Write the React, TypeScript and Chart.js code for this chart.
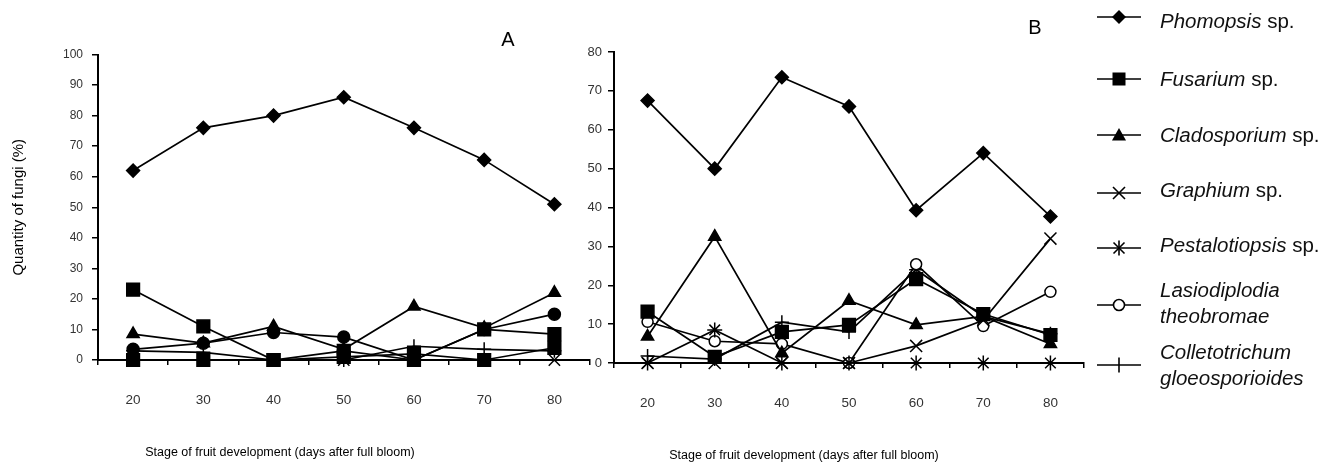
import React, { useEffect, useRef } from 'react';
import { Chart, registerables } from 'chart.js';

Chart.register(...registerables);

// ---------- data ----------
const days = ['20', '30', '40', '50', '60', '70', '80'];

// Panel A – quantity of fungi (%)
const phomopsisA = [62, 76, 80, 86, 76, 65.5, 51];
const fusariumA = [23, 11, 0, 3, 0, 10, 8.5];
const cladosporiumA = [8.5, 5.5, 11, 3.5, 17.5, 10.5, 22];
const graphiumA = [0, 0, 0, 0, 0, 0, 0];
const pestalotiopsisA = [0, 0, 0, 1, 2, 0, 4];
const lasiodiplodiaA = [3.5, 5.5, 9, 7.5, 0, 10, 15];
const colletotrichumA = [3, 2.5, 0, 0, 4.5, 3.5, 3];

// Panel B – quantity of fungi (%)
const phomopsisB = [67.5, 50, 73.5, 66, 39.3, 54, 37.7];
const fusariumB = [13.2, 1.6, 8, 9.8, 21.6, 12.6, 7.2];
const cladosporiumB = [6.8, 32.5, 2.5, 16, 9.8, 12, 4.9];
const graphiumB = [0, 0, 0, 0, 4.4, 11, 32];
const pestalotiopsisB = [0, 8.5, 0, 0, 0, 0, 0];
const lasiodiplodiaB = [10.6, 5.6, 4.9, 0, 25.4, 9.5, 18.3];
const colletotrichumB = [1.8, 1, 10.5, 8, 24, 12, 7.5];

const yMaxA = 100;
const yMaxB = 80;
const yStep = 10;

const seriesNames = [
  'Phomopsis sp.',
  'Fusarium sp.',
  'Cladosporium sp.',
  'Graphium sp.',
  'Pestalotiopsis sp.',
  'Lasiodiplodia theobromae',
  'Colletotrichum gloeosporioides',
];

// ---------- styles ----------
const FONT = '"Liberation Sans", Arial, Helvetica, sans-serif';

type Mk = { style: string; radius: number; fill: string };

const markersA: Mk[] = [
  { style: 'rectRot', radius: 6.5, fill: '#000' },
  { style: 'rect', radius: 9, fill: '#000' },
  { style: 'triangle', radius: 7, fill: '#000' },
  { style: 'crossRot', radius: 8, fill: '#000' },
  { style: 'rect', radius: 9, fill: '#000' },
  { style: 'circle', radius: 6, fill: '#000' },
  { style: 'cross', radius: 7, fill: '#000' },
];

const markersB: Mk[] = [
  { style: 'rectRot', radius: 6.5, fill: '#000' },
  { style: 'rect', radius: 9, fill: '#000' },
  { style: 'triangle', radius: 7, fill: '#000' },
  { style: 'crossRot', radius: 8.5, fill: '#000' },
  { style: 'star', radius: 7.5, fill: '#000' },
  { style: 'circle', radius: 5.5, fill: '#fff' },
  { style: 'cross', radius: 7, fill: '#000' },
];

type PanelProps = {
  series: number[][];
  markers: Mk[];
  left: number;
  width: number;
  yMax: number;
  padTop: number;
  padRight: number;
  yAxisWidth: number;
  xAxisHeight: number;
  yFontSize: number;
  yPad: number;
  yTitle?: string;
};

function Panel(p: PanelProps) {
  const ref = useRef<HTMLCanvasElement | null>(null);
  useEffect(() => {
    if (!ref.current) return;
    const chart = new Chart(ref.current, {
      type: 'line',
      data: {
        labels: days,
        datasets: p.series.map((vals, i) => ({
          label: seriesNames[i],
          data: vals,
          borderColor: '#000',
          borderWidth: 1.7,
          backgroundColor: p.markers[i].fill,
          pointStyle: p.markers[i].style as any,
          pointRadius: p.markers[i].radius,
          pointBackgroundColor: p.markers[i].fill,
          pointBorderColor: '#000',
          pointBorderWidth: 1.5,
          tension: 0,
          fill: false,
          clip: false as any,
        })),
      },
      options: {
        animation: false,
        responsive: false,
        maintainAspectRatio: false,
        layout: { padding: { top: p.padTop, right: p.padRight, left: 0, bottom: 0 } },
        plugins: { legend: { display: false }, tooltip: { enabled: false }, title: { display: false } },
        scales: {
          x: {
            type: 'category',
            offset: true,
            grid: {
              offset: true,
              drawOnChartArea: false,
              drawTicks: true,
              tickLength: 5,
              color: '#000',
              lineWidth: 1.5,
            },
            border: { display: true, color: '#000', width: 2 },
            ticks: {
              padding: 27,
              color: '#333',
              font: { family: FONT, size: 13.5 },
              maxRotation: 0,
              autoSkip: false,
            },
            afterFit: (s: any) => {
              s.height = p.xAxisHeight;
            },
          },
          y: {
            min: 0,
            max: p.yMax,
            grid: {
              drawOnChartArea: false,
              drawTicks: true,
              tickLength: 6,
              color: '#000',
              lineWidth: 1.5,
            },
            border: { display: true, color: '#000', width: 2 },
            ticks: {
              stepSize: yStep,
              padding: p.yPad,
              color: '#333',
              font: { family: FONT, size: p.yFontSize },
            },
            title: p.yTitle
              ? {
                  display: true,
                  text: p.yTitle,
                  color: '#000',
                  font: { family: FONT, size: 15 },
                  padding: { top: 10, bottom: 0 },
                }
              : { display: false },
            afterFit: (s: any) => {
              s.width = p.yAxisWidth;
            },
          },
        },
      } as any,
    });
    return () => chart.destroy();
  }, []);
  return (
    <canvas
      ref={ref}
      width={p.width}
      height={474}
      style={{ position: 'absolute', left: p.left, top: 0, width: p.width, height: 474 }}
    />
  );
}

function LegendMarker({ mk, idx }: { mk: Mk; idx: number }) {
  const c = 22;
  const cy = 10;
  let shape: any = null;
  const sw = 1.6;
  if (idx === 0) shape = <polygon points={`${c},${cy - 7} ${c + 7},${cy} ${c},${cy + 7} ${c - 7},${cy}`} fill="#000" />;
  else if (idx === 1) shape = <rect x={c - 6.5} y={cy - 6.5} width={13} height={13} fill="#000" />;
  else if (idx === 2) shape = <polygon points={`${c},${cy - 7} ${c + 7},${cy + 5.5} ${c - 7},${cy + 5.5}`} fill="#000" />;
  else if (idx === 3)
    shape = (
      <g stroke="#000" strokeWidth={sw}>
        <line x1={c - 6} y1={cy - 6} x2={c + 6} y2={cy + 6} />
        <line x1={c - 6} y1={cy + 6} x2={c + 6} y2={cy - 6} />
      </g>
    );
  else if (idx === 4)
    shape = (
      <g stroke="#000" strokeWidth={sw}>
        <line x1={c - 5.5} y1={cy - 5.5} x2={c + 5.5} y2={cy + 5.5} />
        <line x1={c - 5.5} y1={cy + 5.5} x2={c + 5.5} y2={cy - 5.5} />
        <line x1={c} y1={cy - 7.5} x2={c} y2={cy + 7.5} />
      </g>
    );
  else if (idx === 5) shape = <circle cx={c} cy={cy} r={5.5} fill={mk.fill} stroke="#000" strokeWidth={sw} />;
  else shape = <line x1={c} y1={cy - 7.5} x2={c} y2={cy + 7.5} stroke="#000" strokeWidth={sw} />;
  return (
    <svg width={44} height={20} style={{ position: 'absolute', left: 0, top: 0, overflow: 'visible' }}>
      <line x1={0} y1={cy} x2={44} y2={cy} stroke="#000" strokeWidth={1.7} />
      {shape}
    </svg>
  );
}

const legendMarkerY = [17, 79, 135, 193, 248, 305, 365];
const legendTextY = [21, 79, 135, 190, 245, 302, 364];

function Legend() {
  return (
    <>
      {seriesNames.map((name, i) => {
        const parts = name.split(' ');
        const twoLine = parts[1] !== 'sp.';
        return (
          <React.Fragment key={name}>
            <div style={{ position: 'absolute', left: 1097, top: legendMarkerY[i] - 10, width: 44, height: 20 }}>
              <LegendMarker mk={markersB[i]} idx={i} />
            </div>
            <div
              style={{
                position: 'absolute',
                left: 1160,
                top: legendTextY[i] - (twoLine ? 25 : 12),
                fontFamily: FONT,
                fontSize: 20.5,
                lineHeight: twoLine ? '26px' : '24px',
                color: '#111',
                whiteSpace: 'nowrap',
              }}
            >
              {twoLine ? (
                <>
                  <i>{parts[0]}</i>
                  <br />
                  <i>{parts[1]}</i>
                </>
              ) : (
                <>
                  <i>{parts[0]}</i> {parts[1]}
                </>
              )}
            </div>
          </React.Fragment>
        );
      })}
    </>
  );
}

function Label({ x, y, text, size }: { x: number; y: number; text: string; size: number }) {
  return (
    <div
      style={{
        position: 'absolute',
        left: x,
        top: y,
        transform: 'translate(-50%, -50%)',
        fontFamily: FONT,
        fontSize: size,
        lineHeight: 1,
        color: '#000',
        whiteSpace: 'nowrap',
      }}
    >
      {text}
    </div>
  );
}

export default function App() {
  const seriesA = [phomopsisA, fusariumA, cladosporiumA, graphiumA, pestalotiopsisA, lasiodiplodiaA, colletotrichumA];
  const seriesB = [phomopsisB, fusariumB, cladosporiumB, graphiumB, pestalotiopsisB, lasiodiplodiaB, colletotrichumB];
  return (
    <div style={{ position: 'fixed', left: 0, top: 0, width: 1343, height: 474, background: '#fff', overflow: 'hidden' }}>
      <Panel
        series={seriesA}
        markers={markersA}
        left={0}
        width={600}
        yMax={yMaxA}
        padTop={54.5}
        padRight={8}
        yAxisWidth={98}
        xAxisHeight={114}
        yFontSize={12}
        yPad={9}
        yTitle="Quantity of fungi (%)"
      />
      <Panel
        series={seriesB}
        markers={markersB}
        left={560}
        width={540}
        yMax={yMaxB}
        padTop={52}
        padRight={16}
        yAxisWidth={54}
        xAxisHeight={111}
        yFontSize={13}
        yPad={6}
      />
      <Label x={508} y={39} text="A" size={20} />
      <Label x={1035} y={27} text="B" size={20} />
      <Label x={280} y={452} text="Stage of fruit development (days after full bloom)" size={12.5} />
      <Label x={804} y={455} text="Stage of fruit development (days after full bloom)" size={12.5} />
      <Legend />
    </div>
  );
}
